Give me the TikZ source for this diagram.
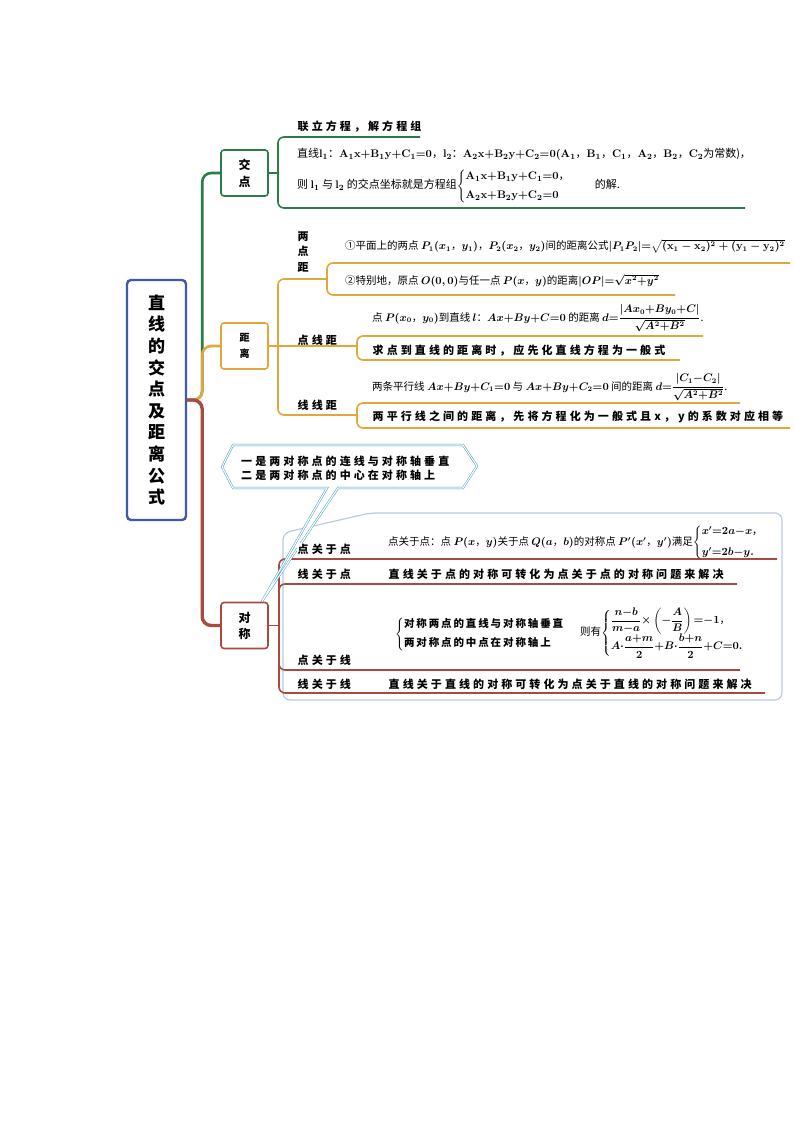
\documentclass[tikz,border=0pt]{standalone}
\usepackage{amsmath}
\usepackage[no-math]{fontspec}
\setmainfont{Noto Sans CJK SC}
\newfontfamily\kaifam[LetterSpace=28]{Noto Sans CJK SC}
\newfontfamily\kaifamb[LetterSpace=18]{Noto Sans CJK SC}
\newcommand{\kaitxt}{\kaifam\bfseries\fontsize{11}{14}\selectfont}
\newcommand{\kaisub}{\kaifamb\bfseries\fontsize{10.5}{14}\selectfont}
\newcommand{\fmtxt}{\fontsize{10.5}{13}\selectfont}
\definecolor{cgreen}{HTML}{2A7D46}
\definecolor{cyellow}{HTML}{E0A83A}
\definecolor{cred}{HTML}{A94A3F}
\definecolor{cblue}{HTML}{3D5BAA}
\definecolor{ccall}{HTML}{4CA6CB}
\definecolor{cbound}{HTML}{BCCAE0}
\begin{document}
\begin{tikzpicture}[x=1pt,y=-1pt,
  every node/.style={inner sep=0pt},
  tbox/.style={draw=#1, line width=1.6pt, rounded corners=3pt, fill=white,
     minimum width=47pt, minimum height=46pt, align=center},
  kai/.style={anchor=base west, font=\kaitxt, inner sep=0.5pt},
  fm/.style={anchor=base west, font=\fmtxt, inner sep=0pt, execute at begin node=\boldmath},
  gline/.style={cgreen, line width=1.6pt, rounded corners=6pt},
  yline/.style={cyellow, line width=1.6pt, rounded corners=6pt},
  rline/.style={cred, line width=1.6pt, rounded corners=6pt}]
\fill[white] (0,0) rectangle (794,1123);
\useasboundingbox (0,0) rectangle (794,1123);

% container of symmetry group
\draw[cbound, line width=1.2pt, rounded corners=7pt, fill=white]
  (283,700) -- (283,533) -- (370,513) -- (782,513) -- (782,700) -- cycle;

% red bracket lines
\coordinate (r1) at (777,559); \coordinate (r2) at (765,693);
\coordinate (r3) at (737,584); \coordinate (r4) at (740,670);
\draw[rline] (r1) -- (279,559) -- (279,693) -- (r2);
\draw[rline] (r3) -- (279,584) -- (279,670) -- (r4);

% callout
\coordinate (cL) at (222,467); \coordinate (cTL) at (233,445);
\coordinate (cTR) at (463,445); \coordinate (cR) at (477,466);
\coordinate (cBR) at (463,488); \coordinate (cP2) at (338,488);
\coordinate (ctip) at (261,603); \coordinate (cP1) at (327,488);
\coordinate (cBL) at (233,488);
\draw[ccall, line width=0.5pt, double=white, double distance=1.1pt, fill=white]
  (cL) -- (cTL) -- (cTR) -- (cR) -- (cBR) -- (cP2) -- (ctip) -- (cP1) -- (cBL) -- cycle;
\node[anchor=west, font=\kaifam\bfseries\fontsize{11}{14}\selectfont, align=left] (call) at (241,468)
  {一是两对称点的连线与对称轴垂直\\二是两对称点的中心在对称轴上};

% main nodes
\node[draw=cblue, line width=2.4pt, rounded corners=4pt, fill=white,
      minimum width=59pt, minimum height=240pt, align=center,
      font=\bfseries\fontsize{17}{21.6}\selectfont] (root) at (156.5,400)
  {直\\线\\的\\交\\点\\及\\距\\离\\公\\式};
\node[tbox=cgreen, font=\kaifamb\bfseries\fontsize{12}{17}\selectfont] (jd) at (244.5,173) {交\\点};
\node[tbox=cyellow, font=\kaifamb\bfseries\fontsize{10}{16}\selectfont] (jl) at (244.5,346) {距\\离};
\node[tbox=cred, font=\kaifamb\bfseries\fontsize{12}{16}\selectfont] (dc) at (244.5,625.5) {对\\称};

% trunk
\draw[cgreen, line width=2.6pt, rounded corners=9pt] (root.east) -| ([xshift=-18pt]jd.west) -- (jd.west);
\draw[cyellow, line width=2.6pt, rounded corners=9pt] (root.east) -| ([xshift=-18pt]jl.west) -- (jl.west);
\draw[cred, line width=3.4pt, rounded corners=9pt] (root.east) -| ([xshift=-18pt]dc.west) -- (dc.west);

% ---------- intersection branch ----------
\coordinate (gt) at (420,137); \coordinate (gb) at (745,208);
\draw[gline] (jd.east) -- (278,173);
\draw[gline] (gt) -- (278,137) -- (278,208) -- (gb);
\node[kai] (lianli) at (297,131) {联立方程，解方程组};
\node[fm, font=\fontsize{11}{13}\selectfont] (jd1) at (297,158) {直线$\mathrm{l_1}$：$\mathrm{A_1x{+}B_1y{+}C_1{=}0}$，$\mathrm{l_2}$：$\mathrm{A_2x{+}B_2y{+}C_2{=}0(A_1}$，$\mathrm{B_1}$，$\mathrm{C_1}$，$\mathrm{A_2}$，$\mathrm{B_2}$，$\mathrm{C_2}$为常数)，};
\node[fm, font=\fontsize{11}{13}\selectfont] (jd2) at (297,189) {则 $\mathrm{l_1}$ 与 $\mathrm{l_2}$ 的交点坐标就是方程组$\left\{\begin{array}{@{}l@{}}\mathrm{A_1x{+}B_1y{+}C_1{=}0}\text{，}\\[6pt]\mathrm{A_2x{+}B_2y{+}C_2{=}0}\end{array}\right.$\hspace{24pt}的解.};

% ---------- distance branch ----------
\coordinate (y1) at (790,263); \coordinate (y2) at (675,295);
\coordinate (y3) at (703,336); \coordinate (y4) at (680,360);
\coordinate (y5) at (740,403); \coordinate (y6) at (790,428);
\draw[yline] (jl.east) -- (357,346);
\draw[yline] (327,279) -- (278,279) -- (278,415) -- (357,415);
\draw[yline] (y1) -- (327,263) -- (327,295) -- (y2);
\draw[yline] (y3) -- (357,336) -- (357,360) -- (y4);
\draw[yline] (y5) -- (357,403) -- (357,428) -- (y6);

\node[font=\kaifamb\bfseries\fontsize{11}{15.5}\selectfont, align=center] (ldd) at (303,252) {两\\点\\距};
\node[kai] (dxj) at (297,344) {点线距};
\node[kai] (xxj) at (297,409) {线线距};

\node[fm] (f1) at (345,250) {①平面上的两点 $P_1(x_1$，$y_1)$，$P_2(x_2$，$y_2)$间的距离公式$|P_1P_2|{=}\sqrt{(\mathrm{x_1-x_2})^2+(\mathrm{y_1-y_2})^2}$};
\node[fm] (f2) at (345,284) {②特别地，原点 $O(0,0)$与任一点 $P(x$，$y)$的距离$|OP|{=}\sqrt{x^2{+}y^2}$};
\node[fm] (f3) at (372,321) {点 $P(x_0$，$y_0)$到直线 $l$：$Ax{+}By{+}C{=}0$ 的距离 $d{=}\dfrac{|Ax_0{+}By_0{+}C|}{\sqrt{A^2{+}B^2}}$.};
\node[kai] (f4) at (372,354) {求点到直线的距离时，应先化直线方程为一般式};
\node[fm] (f5) at (372,390) {两条平行线 $Ax{+}By{+}C_1{=}0$ 与 $Ax{+}By{+}C_2{=}0$ 间的距离 $d{=}\dfrac{|C_1{-}C_2|}{\sqrt{A^2{+}B^2}}$.};
\node[kai] (f6) at (372,420) {两平行线之间的距离，先将方程化为一般式且x，y的系数对应相等};

% ---------- symmetry branch ----------
\draw[rline] (dc.east) -- (279,625.5);
\node[kai, fill=white] (ddd) at (297,553) {点关于点};
\node[kai] (xdd) at (297,578) {线关于点};
\node[kai] (ddx) at (297,664) {点关于线};
\node[kai] (xdx) at (297,688) {线关于线};

\node[fm] (s1) at (388,545) {点关于点：点 $P(x$，$y)$关于点 $Q(a$，$b)$的对称点 $P'(x'$，$y')$满足$\left\{\begin{array}{@{}l@{}}x'{=}2a{-}x\text{，}\\[8pt]y'{=}2b{-}y.\end{array}\right.$};
\node[kai] (s2) at (388,578) {直线关于点的对称可转化为点关于点的对称问题来解决};
\node[fm, anchor=west] (s3) at (395,634) {$\left\{\begin{tabular}{@{}l@{}}{\kaisub 对称两点的直线与对称轴垂直}\\[6pt]{\kaisub 两对称点的中点在对称轴上}\end{tabular}\right.$};
\node[fm, anchor=west] (s4) at (580,633) {则有$\left\{\begin{array}{@{}l@{}}\dfrac{n{-}b}{m{-}a}{\times}\left(-\dfrac{A}{B}\right){=}{-}1\text{，}\\[6pt] A{\cdot}\dfrac{a{+}m}{2}{+}B{\cdot}\dfrac{b{+}n}{2}{+}C{=}0.\end{array}\right.$};
\node[kai] (s5) at (388,688) {直线关于直线的对称可转化为点关于直线的对称问题来解决};
\end{tikzpicture}
\end{document}
